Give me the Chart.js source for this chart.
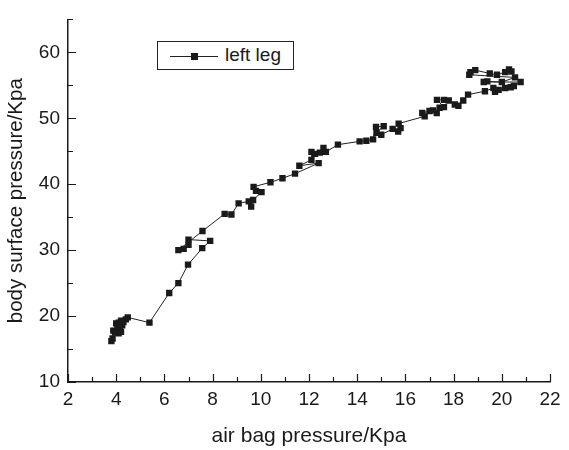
<!DOCTYPE html>
<html>
<head>
<meta charset="utf-8">
<script src="https://cdn.jsdelivr.net/npm/chart.js@4/dist/chart.umd.min.js"></script>
<style>
    html, body { margin: 0; padding: 0; background: #fff; }
    #wrap { position: relative; width: 569px; height: 450px; }
    #legend {
        position: absolute; left: 157px; top: 41px; width: 135px; height: 27px;
        border: 1px solid #222; background: #fff;
        font-family: "Liberation Sans", Arial, sans-serif; font-size: 19px; color: #1a1a1a;
    }
    #legend .ln { position: absolute; left: 12px; top: 14px; width: 48px; height: 1px; background: #222; }
    #legend .mk { position: absolute; left: 33px; top: 11px; width: 7px; height: 7px; background: #1a1a1a; }
    #legend .tx { position: absolute; left: 67px; top: 2px; }
</style>
</head>
<body>
<div id="wrap">
    <canvas id="chart" width="569" height="450"></canvas>
    <div id="legend"><div class="ln"></div><div class="mk"></div><span class="tx">left leg</span></div>
</div>
<script>
'use strict';

// air bag pressure (Kpa), in measurement order
const airBag = [
    3.8, 3.85, 3.88, 4.05, 3.95, 4.1, 4.2, 4.0, 4.1, 4.15, 4.25, 4.3, 4.2, 4.4, 4.48,
    5.38, 6.2, 6.58, 6.98, 7.57, 7.9, 7.0, 7.0, 6.8, 6.58,
    7.58, 8.5, 8.78, 9.08, 9.5, 9.6, 9.68, 10.03, 9.8, 9.7,
    10.4, 10.9, 11.42, 12.4, 11.6, 12.1, 12.1, 12.25, 12.45, 12.6, 12.7,
    13.2, 14.1, 14.38, 14.66, 14.78, 15.1, 14.8, 15.0, 15.47, 15.7, 15.8, 15.72,
    16.8, 16.7, 17.0, 17.15, 17.3, 17.42, 17.6, 17.31, 17.6, 17.8, 18.05, 18.2, 18.4, 18.6,
    19.3, 19.65, 19.72, 19.87, 20.14, 20.37, 20.5, 20.78,
    19.25, 19.4, 20.0, 20.55, 18.65, 18.7, 18.9, 19.5, 19.8, 20.14, 20.3, 20.4
];
// body surface pressure (Kpa)
const bodySurface = [
    16.2, 16.6, 17.8, 18.2, 17.5, 17.4, 17.6, 18.9, 19.0, 18.5, 18.6, 19.1, 19.3, 19.5, 19.8,
    19.0, 23.5, 25.0, 27.8, 30.3, 31.4, 31.6, 30.8, 30.2, 30.0,
    32.9, 35.5, 35.4, 37.1, 37.4, 36.6, 37.6, 38.8, 39.0, 39.6,
    40.3, 40.9, 41.6, 43.2, 42.8, 43.7, 44.9, 44.6, 44.8, 45.5, 44.9,
    46.0, 46.5, 46.6, 46.8, 48.7, 48.8, 47.8, 47.5, 48.4, 48.0, 48.5, 49.2,
    50.3, 50.8, 51.1, 51.2, 50.8, 51.6, 51.7, 52.8, 52.8, 52.7, 52.1, 51.9, 52.7, 53.6,
    54.1, 54.6, 54.0, 54.3, 54.6, 54.7, 54.9, 55.5,
    55.5, 55.6, 55.5, 56.2, 56.6, 57.0, 57.3, 56.8, 56.6, 57.0, 57.4, 57.1
];
const seriesName = 'left leg';
const xLabel = 'air bag pressure/Kpa';
const yLabel = 'body surface pressure/Kpa';

const fontFamily = '"Liberation Sans", Arial, sans-serif';
const ink = '#1a1a1a';

let points = airBag.map((x, i) => ({x: x, y: bodySurface[i]}));

// inward major/minor tick marks like the original plot
const tickMarks = {
    id: 'tickMarks',
    afterDraw(chart) {
        const ctx = chart.ctx;
        const xs = chart.scales.x;
        const ys = chart.scales.y;
        ctx.save();
        ctx.strokeStyle = ink;
        ctx.lineWidth = 1.2;
        ctx.beginPath();
        for (let v = 2; v <= 22; v += 1) {
            const px = Math.round(xs.getPixelForValue(v)) + 0.5;
            const len = v % 2 === 0 ? 8 : 5;
            ctx.moveTo(px, ys.bottom);
            ctx.lineTo(px, ys.bottom - len);
        }
        for (let v = 10; v <= 65; v += 5) {
            const py = Math.round(ys.getPixelForValue(v)) + 0.5;
            const len = v % 10 === 0 ? 8 : 5;
            ctx.moveTo(xs.left, py);
            ctx.lineTo(xs.left + len, py);
        }
        ctx.stroke();
        ctx.restore();
    }
};

new Chart(document.getElementById('chart').getContext('2d'), {
    type: 'scatter',
    data: {
        datasets: [{
            label: seriesName,
            data: points,
            showLine: true,
            borderColor: '#222',
            borderWidth: 1,
            backgroundColor: ink,
            pointStyle: 'rect',
            pointRadius: 4.5,
            pointBorderWidth: 0,
            pointHoverRadius: 4.5
        }]
    },
    options: {
        responsive: false,
        animation: false,
        events: [],
        layout: {padding: {left: 0, right: 19, top: 7, bottom: 0}},
        plugins: {
            legend: {display: false},
            tooltip: {enabled: false}
        },
        scales: {
            x: {
                type: 'linear',
                min: 2,
                max: 22,
                afterFit: scale => { scale.height = 68; },
                grid: {display: false, drawTicks: false},
                border: {display: true, color: ink, width: 1.5},
                ticks: {
                    stepSize: 2,
                    padding: 6,
                    color: ink,
                    font: {family: fontFamily, size: 19}
                },
                title: {
                    display: true,
                    text: xLabel,
                    color: ink,
                    font: {family: fontFamily, size: 21},
                    padding: {top: 0, bottom: 1}
                }
            },
            y: {
                type: 'linear',
                min: 10,
                max: 65,
                afterFit: scale => { scale.width = 68; },
                afterBuildTicks: scale => {
                    scale.ticks = [10, 20, 30, 40, 50, 60].map(v => ({value: v}));
                },
                grid: {display: false, drawTicks: false},
                border: {display: true, color: ink, width: 1.5},
                ticks: {
                    padding: 8,
                    color: ink,
                    font: {family: fontFamily, size: 19}
                },
                title: {
                    display: true,
                    text: yLabel,
                    color: ink,
                    font: {family: fontFamily, size: 20.5},
                    padding: {top: 4, bottom: 0}
                }
            }
        }
    },
    plugins: [tickMarks]
});
</script>
</body>
</html>
